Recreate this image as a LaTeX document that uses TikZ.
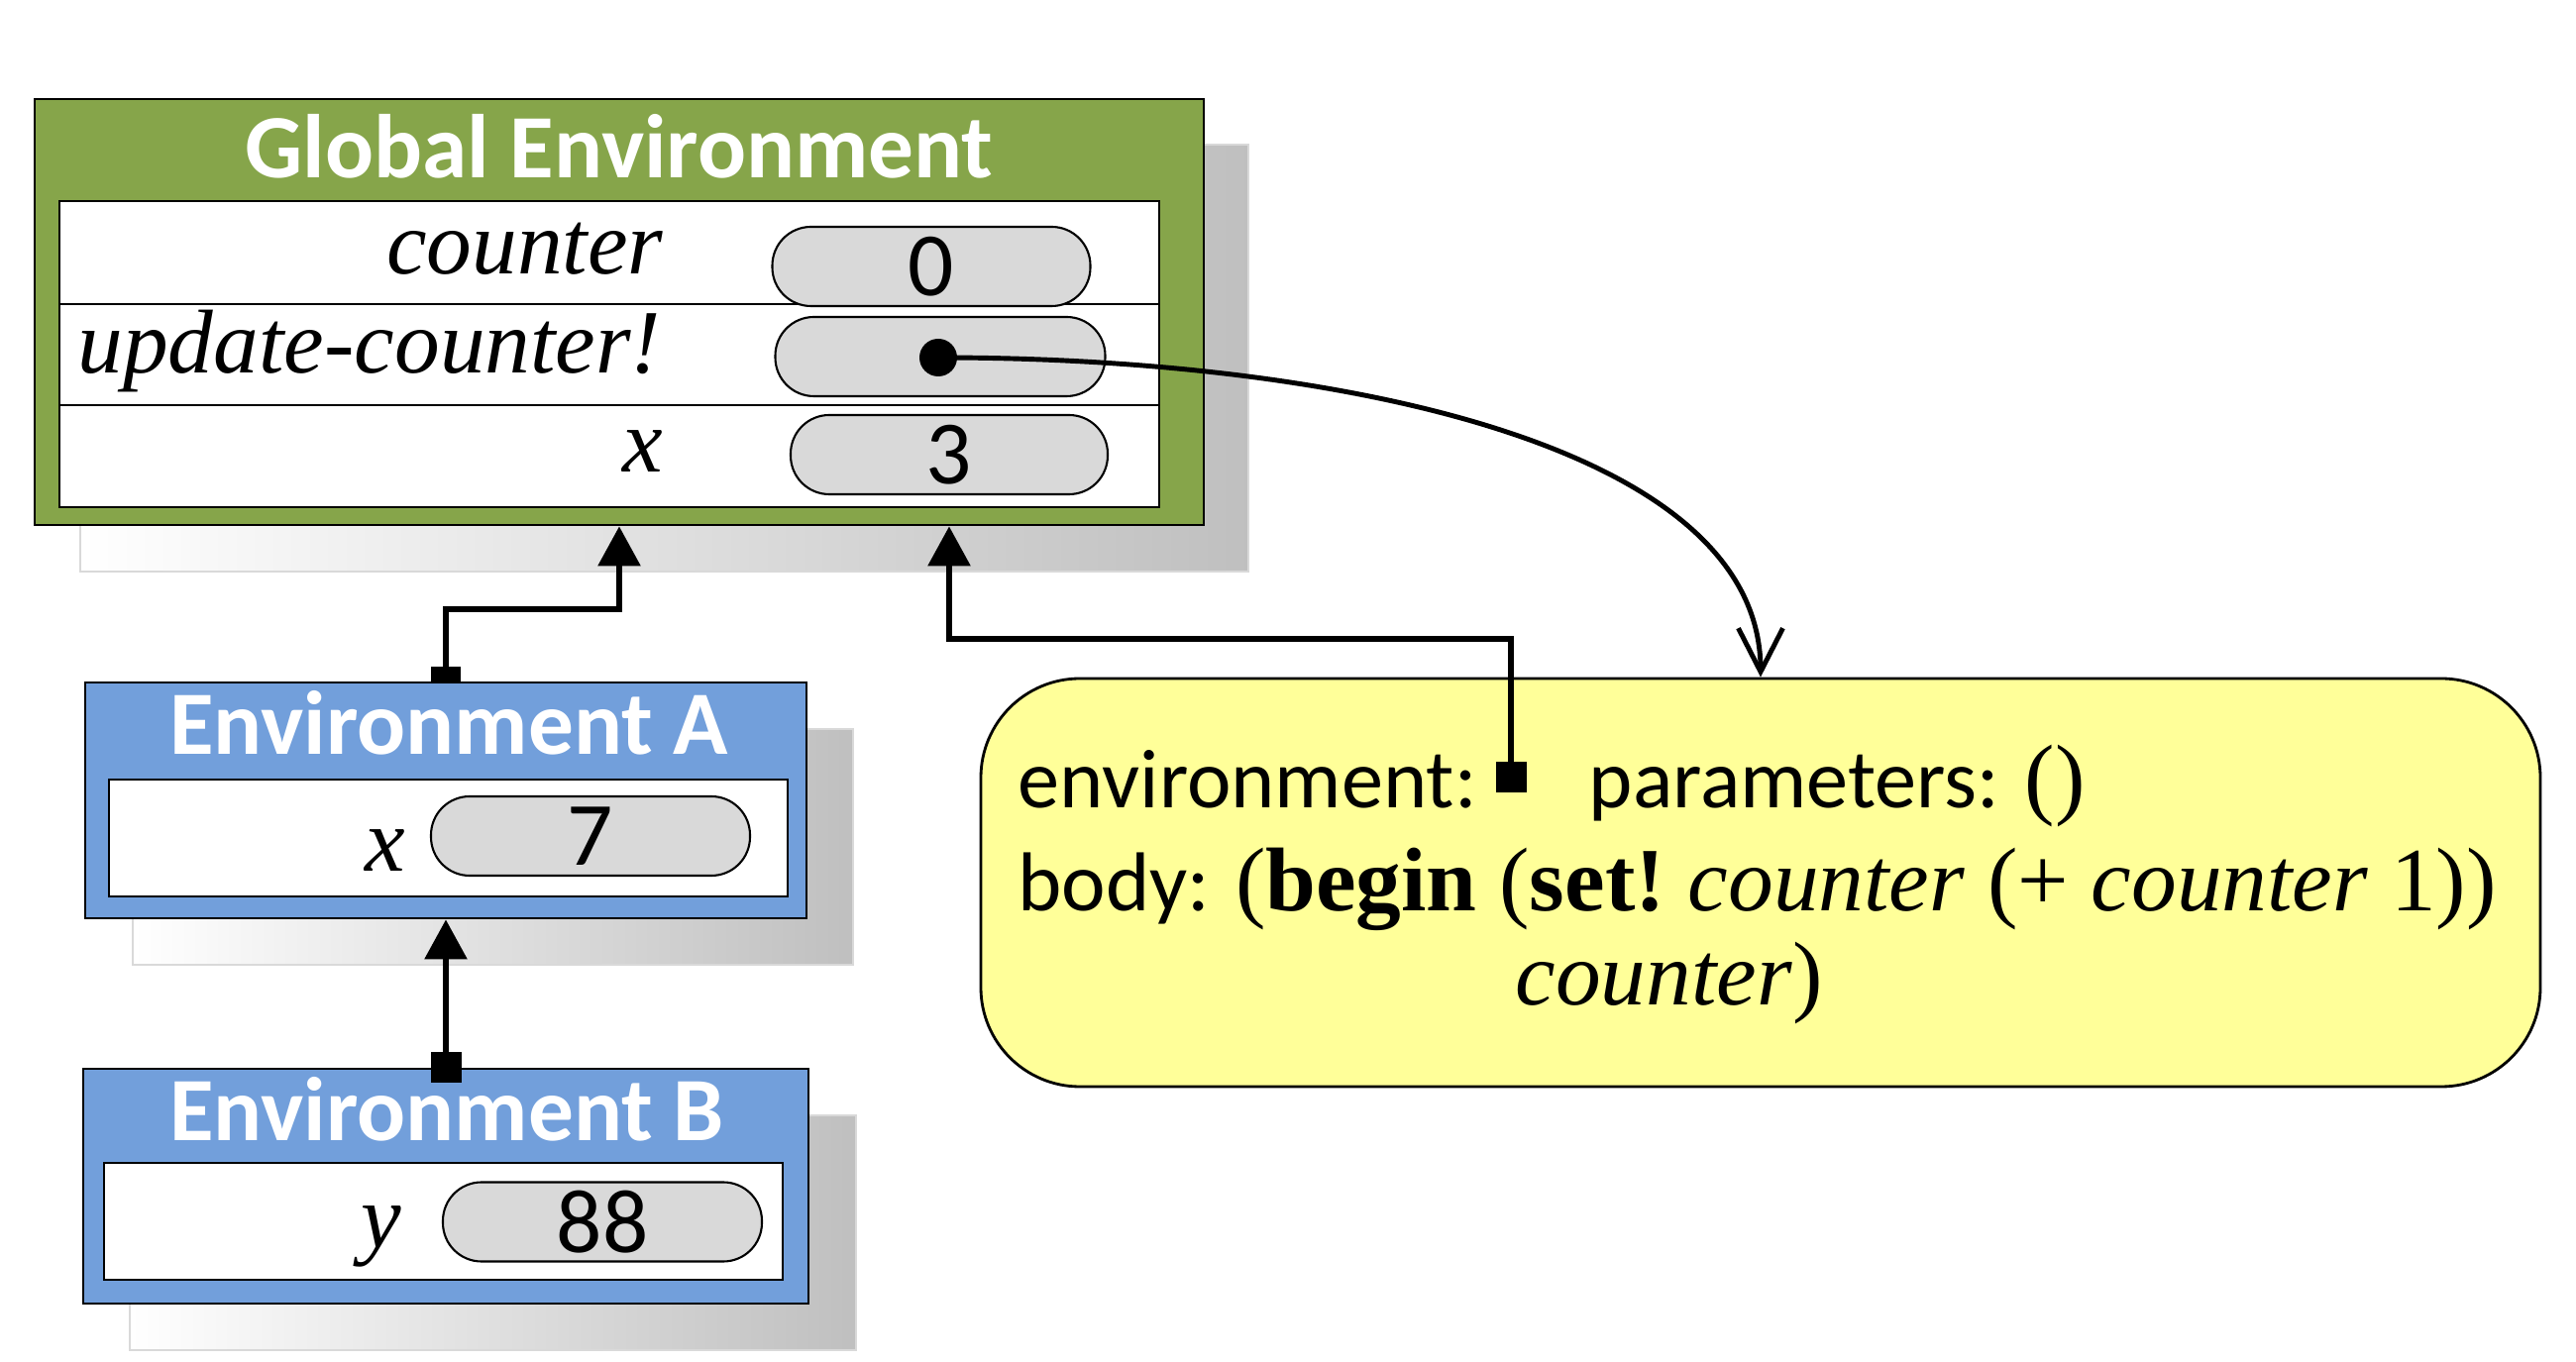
\documentclass[tikz,border=0pt]{standalone}
\usepackage{fontspec}
\setmainfont{Liberation Serif}
\setsansfont{Carlito}
\usetikzlibrary{arrows.meta}

\definecolor{globalgreen}{RGB}{134,165,74}
\definecolor{envblue}{RGB}{114,159,219}
\definecolor{valgray}{RGB}{217,217,217}
\definecolor{closureyellow}{RGB}{255,255,153}

\tikzset{
	frame/.style={draw=black, line width=0.8pt, inner sep=0pt},
	shadowbox/.style={left color=white, right color=gray!50, draw=gray!30, line width=0.6pt},
	envtitle/.style={anchor=base, inner sep=0pt, text=white, font=\sffamily\bfseries\fontsize{26}{28}\selectfont},
	varname/.style={anchor=base east, inner sep=0pt, font=\itshape\fontsize{26}{28}\selectfont},
	value/.style={draw, line width=0.6pt, fill=valgray, rounded corners=0.39cm, inner sep=0pt, minimum height=0.8cm, font=\sffamily\fontsize{26}{28}\selectfont},
	marker/.style={fill=black, inner sep=0pt},
	link/.style={line width=1.7pt, -{Triangle[length=4mm,width=4.2mm]}},
	field/.style={anchor=base west, inner sep=0pt, font=\fontsize{26}{28}\selectfont},
}

\begin{document}
\begin{tikzpicture}
	\useasboundingbox (0,0) rectangle (26,-13.75);

	% global frame
	\shade[shadowbox] (0.81,-1.46) rectangle (12.60,-5.77);
	\node[frame, fill=globalgreen, minimum width=11.8cm, minimum height=4.3cm] (global) at (6.25,-3.15) {};
	\node[envtitle] (globaltitle) at (6.25,-1.80) {Global Environment};
	\draw[fill=white, line width=0.8pt] (0.60,-2.03) rectangle (11.70,-5.12);
	\draw[line width=0.6pt] (0.60,-3.07) -- (11.70,-3.07);
	\draw[line width=0.6pt] (0.60,-4.09) -- (11.70,-4.09);
	\node[varname] (counterlabel) at (6.70,-2.77) {counter};
	\node[varname] (updatelabel) at (6.68,-3.77) {update-counter!};
	\node[varname] (xlabel) at (6.70,-4.77) {x};
	\node[value, minimum width=3.21cm] (counterval) at (9.40,-2.69) {0};
	\node[value, minimum width=3.33cm] (updateval) at (9.49,-3.60) {};
	\node[value, minimum width=3.20cm] (xval) at (9.58,-4.59) {3};
	\node[circle, fill=black, inner sep=0pt, minimum size=0.38cm] (updatedot) at (9.47,-3.61) {};

	% environment A
	\shade[shadowbox] (1.34,-7.36) rectangle (8.61,-9.74);
	\node[marker, minimum width=0.3cm, minimum height=0.32cm] (asquare) at (4.5,-6.89) {};
	\node[frame, fill=envblue, minimum width=7.28cm, minimum height=2.38cm] (envA) at (4.5,-8.08) {};
	\node[envtitle] (atitle) at (4.53,-7.62) {Environment A};
	\draw[fill=white, line width=0.8pt] (1.10,-7.87) rectangle (7.95,-9.05);
	\node[varname] (axlabel) at (4.10,-8.80) {x};
	\node[value, minimum width=3.22cm] (axval) at (5.96,-8.44) {7};

	% environment B
	\shade[shadowbox] (1.31,-11.26) rectangle (8.64,-13.63);
	\node[frame, fill=envblue, minimum width=7.32cm, minimum height=2.37cm] (envB) at (4.5,-11.975) {};
	\node[envtitle] (btitle) at (4.51,-11.52) {Environment B};
	\draw[fill=white, line width=0.8pt] (1.05,-11.74) rectangle (7.90,-12.92);
	\node[varname] (bylabel) at (4.06,-12.60) {y};
	\node[value, minimum width=3.22cm] (byval) at (6.08,-12.335) {88};
	\node[marker, minimum size=0.31cm] (bsquare) at (envB.north) {};

	% procedure object
	\node[draw, line width=0.8pt, fill=closureyellow, rounded corners=1cm, minimum width=15.74cm, minimum height=4.12cm] (closure) at (17.77,-8.91) {};
	\node[field, font=\sffamily\fontsize{24}{26}\selectfont] (envfield) at (10.27,-8.16) {environment:};
	\node[marker, minimum size=0.31cm] (envsquare) at (15.25,-7.85) {};
	\node[field, font=\sffamily\fontsize{24}{26}\selectfont] (paramfield) at (16.03,-8.16) {parameters: {\rmfamily\fontsize{26}{28}\selectfont()}};
	\node[field] (bodyfield) at (10.27,-9.20) {{\sffamily\fontsize{24}{26}\selectfont body: }(\textbf{begin} (\textbf{set!}\ \textit{counter} (+ \textit{counter} 1))};
	\node[field] (bodyrest) at (15.29,-10.15) {\textit{counter})};

	% links
	\draw[link] (asquare.center) -- ++(0,0.74) -| (global.south);
	\draw[link] (bsquare.center) -- (envA.south);
	\draw[link] (envsquare.center) -- ++(0,1.40) -| (global.south -| xval.center);
	\draw[line width=1.4pt, -{Straight Barb[length=4.4mm,width=4.5mm]}] (updatedot.center) .. controls +(4,0) and +(0,2.35) .. (closure.north);
\end{tikzpicture}
\end{document}
